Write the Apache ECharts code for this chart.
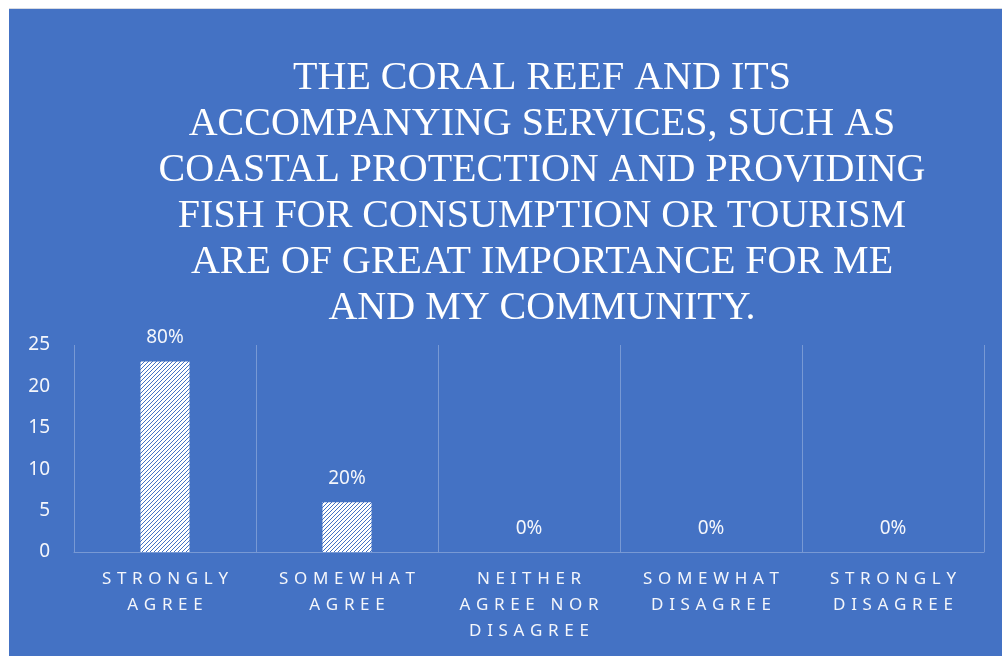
<!DOCTYPE html>
<html>
<head>
<meta charset="utf-8">
<script src="https://cdn.jsdelivr.net/npm/echarts@6/dist/echarts.min.js"></script>
<style>
  html, body { margin: 0; padding: 0; background: #ffffff; width: 1002px; height: 656px; overflow: hidden; }
  #edge { position: absolute; left: 9px; top: 8px; width: 993px; height: 1px; background: #d6dae2; }
  #chart { position: absolute; left: 9px; top: 9px; width: 993px; height: 647px; }
</style>
</head>
<body>
<div id="edge"></div>
<div id="chart"></div>
<script>
// Survey responses: number of respondents per answer
const titleLines = [
  'THE CORAL REEF AND ITS',
  'ACCOMPANYING SERVICES, SUCH AS',
  'COASTAL PROTECTION AND PROVIDING',
  'FISH FOR CONSUMPTION OR TOURISM',
  'ARE OF GREAT IMPORTANCE FOR ME',
  'AND MY COMMUNITY.'
];
const categories = [
  'STRONGLY\nAGREE',
  'SOMEWHAT\nAGREE',
  'NEITHER\nAGREE NOR\nDISAGREE',
  'SOMEWHAT\nDISAGREE',
  'STRONGLY\nDISAGREE'
];
const counts = [23, 6, 0, 0, 0];
const shareLabels = ['80%', '20%', '0%', '0%', '0%'];
const yTicks = { min: 0, max: 25, interval: 5 };

const BLUE = '#4472C4';

// Fine upward-diagonal hatch used to fill the bars
function hatchPattern() {
  const c = document.createElement('canvas');
  c.width = 4; c.height = 4;
  const g = c.getContext('2d');
  g.fillStyle = '#ffffff';
  g.fillRect(0, 0, 4, 4);
  g.fillStyle = BLUE;
  for (let i = 0; i < 4; i++) g.fillRect(i, 3 - i, 1, 1);
  return c;
}

// Widen the tracking of the category captions
function spaced(s) {
  return s.split('\n').map(line => line.split('').join('\u2004')).join('\n');
}

const chart = echarts.init(document.getElementById('chart'), null, { renderer: 'canvas' });

chart.setOption({
  backgroundColor: BLUE,
  animation: false,
  title: {
    text: titleLines.join('\n'),
    left: 528,
    top: 41,
    textAlign: 'center',
    textStyle: {
      fontFamily: 'Liberation Serif',
      fontSize: 40,
      fontWeight: 'normal',
      color: '#ffffff',
      lineHeight: 46
    }
  },
  grid: { left: 65, top: 336, width: 910, height: 207, containLabel: false },
  xAxis: {
    type: 'category',
    data: categories,
    axisLine: { show: true, lineStyle: { color: 'rgba(255,255,255,0.28)', width: 1 } },
    axisTick: { show: false },
    splitLine: { show: true, lineStyle: { color: 'rgba(255,255,255,0.28)', width: 1 } },
    axisLabel: {
      interval: 0,
      margin: 14,
      color: '#f4f6fb',
      fontFamily: 'Noto Sans',
      fontSize: 17,
      lineHeight: 26,
      formatter: v => spaced(v)
    }
  },
  yAxis: {
    type: 'value',
    min: yTicks.min,
    max: yTicks.max,
    interval: yTicks.interval,
    axisLine: { show: false },
    axisTick: { show: false },
    splitLine: { show: false },
    axisLabel: {
      margin: 24,
      color: '#f4f6fb',
      fontFamily: 'Noto Sans',
      fontSize: 19
    }
  },
  series: [{
    type: 'bar',
    data: counts,
    barWidth: 49,
    itemStyle: { color: { image: hatchPattern(), repeat: 'repeat' } },
    label: {
      show: true,
      position: 'top',
      distance: 14,
      color: '#f4f6fb',
      fontFamily: 'Noto Sans',
      fontSize: 19,
      formatter: p => shareLabels[p.dataIndex]
    }
  }]
});
</script>
</body>
</html>
